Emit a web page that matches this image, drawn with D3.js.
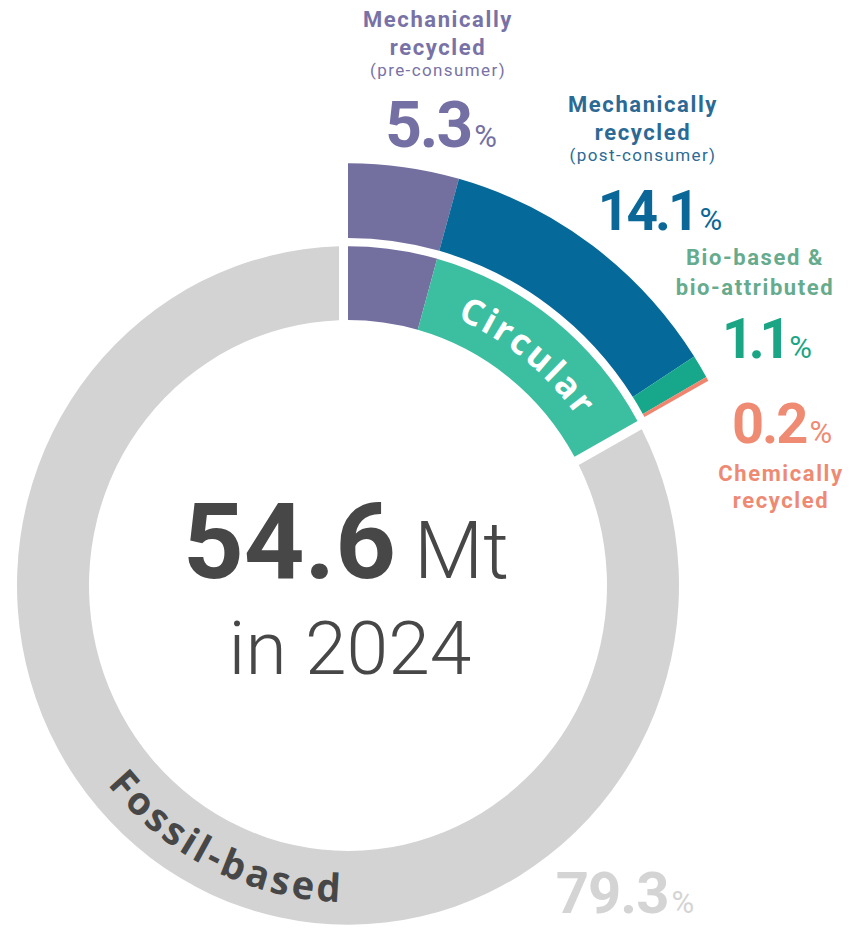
<!DOCTYPE html>
<html>
<head>
<meta charset="utf-8">
<script src="https://cdn.jsdelivr.net/npm/d3@7"></script>
<style>
  html, body { margin: 0; padding: 0; background: #ffffff; }
  svg { display: block; }
</style>
</head>
<body>
<script>
// ---------------- DATA ----------------
const categories = [
  "Mechanically recycled (pre-consumer)",
  "Mechanically recycled (post-consumer)",
  "Bio-based & bio-attributed",
  "Chemically recycled"
];
const circularShares = [5.3, 14.1, 1.1, 0.2];   // % of total
const fossilShare = 79.3;                        // % of total
const totalMt = "54.6";
const totalUnit = "Mt";
const yearLabel = "in 2024";
const labelLines = [
  ["Mechanically", "recycled", "(pre-consumer)"],
  ["Mechanically", "recycled", "(post-consumer)"],
  ["Bio-based &", "bio-attributed"],
  ["Chemically", "recycled"]
];
const ringLabels = ["Circular", "Fossil-based"];

// ---------------- STYLE / LAYOUT ----------------
const W = 853, H = 929;
const cx = 348, cy = 585.5, sy = 1.025;
const rIn0 = 259, rIn1 = 331, rOut0 = 339, rOut1 = 412;
const deg = Math.PI / 180;
const circSpan = 61 * deg;
const segColors = ["#736f9f", "#05699a", "#17a78a", "#f0856f"];
const circularColor = "#3cbea0";
const fossilColor = "#d3d3d3";
const textColors = ["#7872a6", "#2c6a96", "#66ab8e", "#ee8a73"];
const numColors = ["#7470a4", "#0b6797", "#1aa584", "#ef8a73"];
const labelFont = "Roboto, 'Noto Sans', sans-serif";
const ringFont = "'Open Sans', 'Noto Sans', sans-serif";
const numFont = "Roboto, 'Noto Sans', sans-serif";

const svg = d3.select("body").append("svg")
  .attr("width", W).attr("height", H)
  .attr("viewBox", `0 0 ${W} ${H}`);
svg.append("rect").attr("width", W).attr("height", H).attr("fill", "#fff");

const g = svg.append("g")
  .attr("transform", `translate(${cx},${cy}) scale(1,${sy})`);

// outer ring: circular breakdown
const pie = d3.pie().sort(null).value(d => d).startAngle(0).endAngle(circSpan);
const outerArcs = pie(circularShares);
const arcOuter = d3.arc().innerRadius(rOut0).outerRadius(rOut1);
g.selectAll("path.outer").data(outerArcs).join("path")
  .attr("class", "outer")
  .attr("d", arcOuter)
  .attr("fill", (d, i) => segColors[i]);

// inner ring: circular (with pre-consumer part) + fossil
const arcInner = d3.arc().innerRadius(rIn0).outerRadius(rIn1).padRadius(300);
const innerData = [
  { startAngle: 0, endAngle: outerArcs[0].endAngle, padAngle: 0, fill: segColors[0] },
  { startAngle: outerArcs[0].endAngle, endAngle: outerArcs[outerArcs.length - 1].endAngle, padAngle: 0, fill: circularColor },
  { startAngle: outerArcs[outerArcs.length - 1].endAngle, endAngle: 2 * Math.PI, padAngle: 18 / 300, fill: fossilColor, value: fossilShare }
];
g.selectAll("path.inner").data(innerData).join("path")
  .attr("class", "inner")
  .attr("d", arcInner)
  .attr("fill", d => d.fill);

// curved ring labels
function arcPath(r, t0, t1, ccw) {
  const p = d3.path();
  p.arc(0, 0, r, t0 - Math.PI / 2, t1 - Math.PI / 2, ccw);
  return p.toString();
}
const circMid = (outerArcs[0].endAngle + circSpan) / 2 + 0.5 * deg;
g.append("path").attr("id", "circPath").attr("fill", "none")
  .attr("d", arcPath(282, circMid - 40 * deg, circMid + 40 * deg, false));
g.append("text")
  .attr("font-family", ringFont).attr("font-weight", 700)
  .attr("font-size", 35).attr("letter-spacing", 2.6)
  .attr("fill", "#ffffff")
  .append("textPath").attr("href", "#circPath")
  .attr("startOffset", "50%").attr("text-anchor", "middle")
  .text(ringLabels[0]);

const fosMid = 206 * deg;
g.append("path").attr("id", "fosPath").attr("fill", "none")
  .attr("d", arcPath(309, fosMid + 45 * deg, fosMid - 45 * deg, true));
g.append("text")
  .attr("font-family", ringFont).attr("font-weight", 700)
  .attr("font-size", 38).attr("letter-spacing", 3.4)
  .attr("fill", "#474747")
  .append("textPath").attr("href", "#fosPath")
  .attr("startOffset", "50%").attr("text-anchor", "middle")
  .text(ringLabels[1]);

// ---------------- category labels ----------------
const labelPos = [
  { x: 438, lines: [27, 55, 76], num: { x: 441, y: 147, size: 64, ls: -2 } },
  { x: 643, lines: [112, 140, 161], num: { x: 660, y: 230, size: 55, ls: -3 } },
  { x: 755, lines: [265, 295], num: { x: 767, y: 358, size: 55, ls: -5 } },
  { x: 781, lines: [481, 508], num: { x: 782, y: 443, size: 56, ls: -2 } }
];

labelLines.forEach((lines, i) => {
  const pos = labelPos[i];
  const lt = svg.append("text")
    .attr("text-anchor", "middle")
    .attr("font-family", labelFont)
    .attr("fill", textColors[i]);
  lines.forEach((t, j) => {
    const sub = t.startsWith("(");
    lt.append("tspan")
      .attr("x", pos.x).attr("y", pos.lines[j])
      .attr("font-weight", sub ? 400 : 700)
      .attr("font-size", sub ? 17 : 22)
      .attr("letter-spacing", sub ? 1.4 : 1.6)
      .text(t);
  });
  const nt = svg.append("text")
    .attr("x", pos.num.x).attr("y", pos.num.y)
    .attr("text-anchor", "middle")
    .attr("font-family", numFont)
    .attr("fill", numColors[i]);
  nt.append("tspan").attr("font-weight", 700).attr("font-size", pos.num.size)
    .attr("letter-spacing", pos.num.ls)
    .text(d3.format(".1f")(circularShares[i]));
  nt.append("tspan").attr("font-weight", 400).attr("font-size", 31).attr("dx", 3)
    .attr("letter-spacing", 0).text("%");
});

// fossil share
const ft = svg.append("text")
  .attr("x", 625).attr("y", 913).attr("text-anchor", "middle")
  .attr("font-family", numFont).attr("fill", "#d4d4d4");
ft.append("tspan").attr("font-weight", 700).attr("font-size", 58).attr("letter-spacing", -1)
  .text(d3.format(".1f")(fossilShare));
ft.append("tspan").attr("font-weight", 400).attr("font-size", 31).attr("dx", 3)
  .attr("letter-spacing", 0).text("%");

// center text
const ct = svg.append("text")
  .attr("x", 346).attr("y", 578).attr("text-anchor", "middle")
  .attr("font-family", numFont).attr("fill", "#474747");
ct.append("tspan").attr("font-weight", 700).attr("font-size", 106).text(totalMt);
ct.append("tspan").attr("font-weight", 300).attr("font-size", 80).attr("dx", 18).text(totalUnit);

svg.append("text")
  .attr("x", 350).attr("y", 674).attr("text-anchor", "middle")
  .attr("font-family", numFont).attr("font-weight", 300)
  .attr("font-size", 75).attr("fill", "#474747")
  .text(yearLabel);
</script>
</body>
</html>
